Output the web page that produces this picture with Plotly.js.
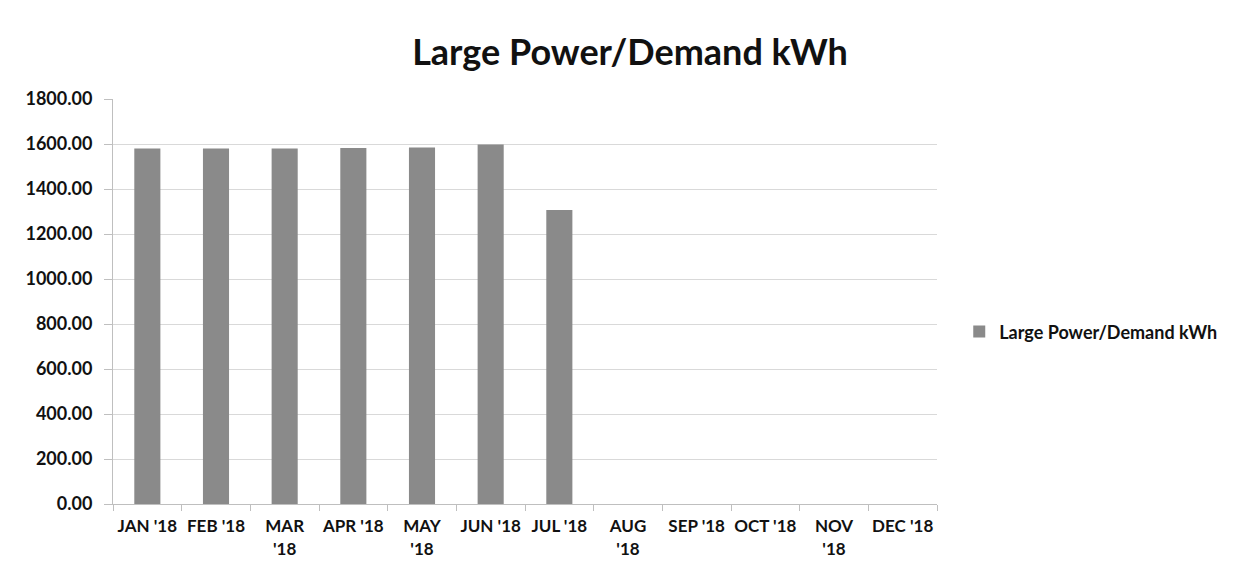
<!DOCTYPE html>
<html>
<head>
<meta charset="utf-8">
<script src="https://cdn.plot.ly/plotly-3.0.1.min.js"></script>
<style>html,body{margin:0;padding:0;background:#fff;}#chart{width:1245px;height:582px;}</style>
</head>
<body>
<div id="chart"></div>
<script>
const categories = ["JAN '18","FEB '18","MAR '18","APR '18","MAY '18","JUN '18","JUL '18","AUG '18","SEP '18","OCT '18","NOV '18","DEC '18"];
const tickLabels = ["JAN '18","FEB '18","MAR<br>'18","APR '18","MAY<br>'18","JUN '18","JUL '18","AUG<br>'18","SEP '18","OCT '18","NOV<br>'18","DEC '18"];
const kwh = [1580, 1580, 1580, 1582, 1585, 1598, 1307, null, null, null, null, null];
const yTicks = [0, 200, 400, 600, 800, 1000, 1200, 1400, 1600, 1800];

const font = "Lato, 'Open Sans', sans-serif";
const trace = {
  type: 'bar',
  x: categories,
  y: kwh,
  name: 'Large Power/Demand kWh',
  marker: {color: '#8a8a8a'},
  showlegend: true
};
const layout = {
  width: 1245, height: 582,
  margin: {l: 113, r: 308, t: 99, b: 78},
  paper_bgcolor: '#fff', plot_bgcolor: '#fff',
  title: {text: '<b>Large Power/Demand kWh</b>', font: {family: font, size: 36, color: '#111'}, x: 0.506, xref: 'container', xanchor: 'center', y: 0.91, yanchor: 'middle'},
  bargap: 0.62,
  xaxis: {
    tickmode: 'array', tickvals: categories, ticktext: tickLabels, tickangle: 0,
    showline: true, linecolor: '#bfbfbf', linewidth: 1,
    ticks: 'outside', ticklen: 6, tickcolor: '#bfbfbf', tickson: 'boundaries',
    ticklabelstandoff: 7,
    tickfont: {family: font, size: 17, color: '#111', weight: 'bold'},
    showgrid: false, fixedrange: true
  },
  yaxis: {
    range: [0, 1800], tickvals: yTicks, tickformat: '.2f',
    showgrid: true, gridcolor: '#d9d9d9', gridwidth: 1,
    showline: true, linecolor: '#bfbfbf', linewidth: 1,
    ticks: 'outside', ticklen: 8, tickcolor: '#bfbfbf',
    ticklabelstandoff: 8,
    tickfont: {family: font, size: 18, color: '#111', weight: 'bold'},
    zeroline: false
  },
  legend: {x: 1.027, xanchor: 'left', y: 0.425, yanchor: 'middle', font: {family: font, size: 18, color: '#111', weight: 'bold'}, itemwidth: 30, bgcolor: 'rgba(0,0,0,0)'}
};
Plotly.newPlot('chart', [trace], layout, {displayModeBar: false, staticPlot: true});
</script>
</body>
</html>
